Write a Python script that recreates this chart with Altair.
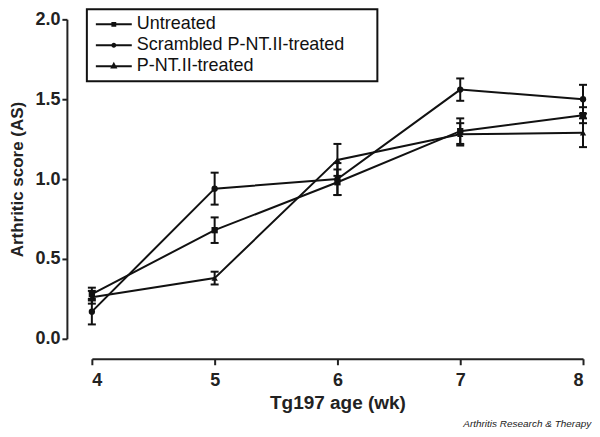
import altair as alt
import pandas as pd

# ---- data ----
weeks = [4, 5, 6, 7, 8]
series_names = ["Untreated", "Scrambled P-NT.II-treated", "P-NT.II-treated"]
untreated = [0.28, 0.68, 0.98, 1.30, 1.40]
untreated_sem = [0.04, 0.08, 0.08, 0.08, 0.05]
scrambled = [0.17, 0.94, 1.00, 1.56, 1.50]
scrambled_sem = [0.08, 0.10, 0.10, 0.07, 0.09]
pnt = [0.26, 0.38, 1.12, 1.28, 1.29]
pnt_sem = [0.04, 0.04, 0.10, 0.07, 0.09]
y_ticks = [0.0, 0.5, 1.0, 1.5, 2.0]
x_ticks = [4, 5, 6, 7, 8]

rows = []
for name, vals, sems in zip(series_names, [untreated, scrambled, pnt],
                            [untreated_sem, scrambled_sem, pnt_sem]):
    for w, v, s in zip(weeks, vals, sems):
        rows.append({"series": name, "week": w, "score": v,
                     "lo": v - s, "hi": v + s})
df = pd.DataFrame(rows)

FONT = "Liberation Sans"
INK = "#111111"

x_enc = alt.X("week:Q",
              scale=alt.Scale(domain=[4, 8], nice=False, zero=False),
              axis=alt.Axis(values=x_ticks, format="d", title="Tg197 age (wk)",
                            offset=20, tickSize=6, labelPadding=7, titlePadding=4,
                            titleFontSize=19))
y_axis = alt.Axis(values=y_ticks, format=".1f", title="Arthritic score (AS)",
                  offset=25, tickSize=5, labelPadding=2, titlePadding=8,
                  titleFontSize=17)
y_scale = alt.Scale(domain=[0, 2], nice=False)

base = alt.Chart(df).encode(x=x_enc)

lines = base.mark_line(color=INK, strokeWidth=2).encode(
    y=alt.Y("score:Q", scale=y_scale, axis=y_axis),
    detail="series:N")

bars = base.mark_rule(color=INK, strokeWidth=2).encode(
    y=alt.Y("lo:Q", scale=y_scale), y2="hi:Q")

cap_path = "M-1,0L1,0"
caps_hi = base.mark_point(shape=cap_path, size=64, strokeWidth=2,
                          color=INK, filled=False, opacity=1).encode(
    y=alt.Y("hi:Q", scale=y_scale))
caps_lo = base.mark_point(shape=cap_path, size=64, strokeWidth=2,
                          color=INK, filled=False, opacity=1).encode(
    y=alt.Y("lo:Q", scale=y_scale))

points = base.mark_point(filled=True, color=INK, size=40, opacity=1).encode(
    y=alt.Y("score:Q", scale=y_scale),
    shape=alt.Shape("series:N",
                    scale=alt.Scale(domain=series_names,
                                    range=["square", "circle", "triangle-up"]),
                    legend=None))

# legend symbols: a line with a small marker in the middle (stroked, so it looks solid)
leg_sq = "M-3,0L3,0M-0.24,-0.24L0.24,-0.24L0.24,0.24L-0.24,0.24Z"
leg_ci = "M-3,0L3,0M-0.25,0A0.25,0.25 0 1,0 0.25,0A0.25,0.25 0 1,0 -0.25,0Z"
leg_tr = "M-3,0L3,0M0,-0.4L0.32,0.2L-0.32,0.2Z"

legend_layer = base.mark_point(filled=False, color=INK, strokeWidth=2,
                               opacity=0).encode(
    y=alt.Y("score:Q", scale=y_scale),
    shape=alt.Shape("series:N",
                    scale=alt.Scale(domain=series_names,
                                    range=[leg_sq, leg_ci, leg_tr]),
                    legend=alt.Legend(
                        title=".", titleOrient="right", titleOpacity=0,
                        titleFontSize=10, titlePadding=24,
                        orient="none", legendX=-5, legendY=-10,
                        symbolSize=144, symbolOffset=12, labelOffset=14,
                        symbolStrokeColor=INK, symbolStrokeWidth=2,
                        symbolOpacity=1,
                        labelFont=FONT, labelFontSize=18, labelColor=INK,
                        labelLimit=400,
                        rowPadding=3, padding=6,
                        strokeColor=INK, cornerRadius=0)))

chart = alt.layer(lines, bars, caps_hi, caps_lo, points, legend_layer).resolve_scale(
    shape="independent"
).properties(
    width=492, height=320,
    padding={"left": 0, "top": 0, "right": 0, "bottom": 0},
    title=alt.TitleParams(text="Arthritis Research & Therapy", orient="bottom",
                          anchor="end", frame="bounds", fontSize=10,
                          fontStyle="italic", fontWeight="normal", font=FONT,
                          color="#222222", offset=6)
).configure_view(stroke=None).configure_axis(
    grid=False, domainColor="#222222", domainWidth=2, tickColor="#222222",
    tickWidth=2, labelFont=FONT, labelFontSize=18, labelFontWeight="bold",
    labelColor="#222222", titleFont=FONT,
    titleFontWeight="bold", titleColor="#222222"
).configure_legend(strokeWidth=2)

chart.save("out.html", embed_options={"renderer": "svg", "actions": False})
